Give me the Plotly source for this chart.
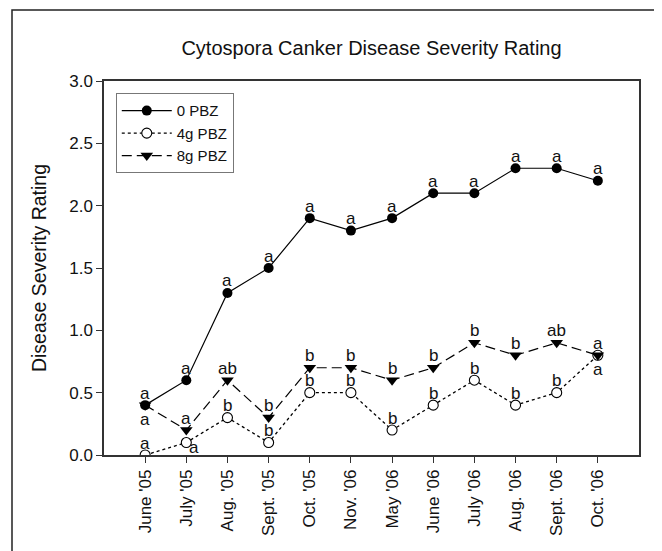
import plotly.graph_objects as go

months = ["June '05", "July '05", "Aug. '05", "Sept. '05", "Oct. '05", "Nov. '06",
          "May '06", "June '06", "July '06", "Aug. '06", "Sept. '06", "Oct. '06"]

pbz0 = [0.4, 0.6, 1.3, 1.5, 1.9, 1.8, 1.9, 2.1, 2.1, 2.3, 2.3, 2.2]
pbz4 = [0.0, 0.1, 0.3, 0.1, 0.5, 0.5, 0.2, 0.4, 0.6, 0.4, 0.5, 0.8]
pbz8 = [0.4, 0.2, 0.6, 0.3, 0.7, 0.7, 0.6, 0.7, 0.9, 0.8, 0.9, 0.8]

letters0 = ["a"] * 12
letters4 = ["a", "a", "b", "b", "b", "b", "b", "b", "b", "b", "b", "a"]
letters8 = ["a", "a", "ab", "b", "b", "b", "b", "b", "b", "b", "ab", "a"]

# where each significance letter sits relative to its point
place0 = ["above"] * 12
place4 = ["above", "right"] + ["above"] * 9 + ["below"]
place8 = ["below"] + ["above"] * 11

FONT = "Liberation Sans, Arial, Helvetica, sans-serif"
INK = "#111"

# page body adds an 8px margin; figure is sized to fit the 662x551 window
W, H = 654, 543
L, R, T, B = 96, 23, 73, 96
PW, PH = W - L - R, H - T - B

fig = go.Figure()
fig.add_trace(go.Scatter(
    x=months, y=pbz0, name="0 PBZ", mode="lines+markers",
    line=dict(color="black", width=1.2),
    marker=dict(symbol="circle", size=10, color="black")))
fig.add_trace(go.Scatter(
    x=months, y=pbz4, name="4g PBZ", mode="lines+markers",
    line=dict(color="black", width=1.3, dash="dot"),
    marker=dict(symbol="circle", size=10, color="white",
                line=dict(width=1.1, color="black"))))
fig.add_trace(go.Scatter(
    x=months, y=pbz8, name="8g PBZ", mode="lines+markers",
    line=dict(color="black", width=1.2, dash="10px,5px"),
    marker=dict(symbol="triangle-down", size=11, color="black")))

SHIFT = {"above": (0, 12), "below": (0, -14), "right": (8, -5)}
for ys, labs, plc in ((pbz0, letters0, place0), (pbz4, letters4, place4),
                      (pbz8, letters8, place8)):
    for m, v, t, p in zip(months, ys, labs, plc):
        dx, dy = SHIFT[p]
        fig.add_annotation(x=m, y=v, text=t, showarrow=False,
                           xshift=dx, yshift=dy, xanchor="center", yanchor="middle",
                           font=dict(family=FONT, size=17, color=INK))

fig.update_layout(
    width=W, height=H,
    margin=dict(l=L, r=R, t=T, b=B, autoexpand=False),
    paper_bgcolor="white", plot_bgcolor="white",
    font=dict(family=FONT, color=INK),
    title=dict(text="Cytospora Canker Disease Severity Rating",
               x=0.5, xref="paper", xanchor="center",
               y=1 - 40 / H, yanchor="middle",
               font=dict(size=20, family=FONT, color=INK)),
    showlegend=True,
    legend=dict(x=0.022, y=0.967, xanchor="left", yanchor="top",
                bgcolor="white", bordercolor="#777", borderwidth=1,
                font=dict(size=15, family=FONT, color=INK),
                tracegroupgap=0, itemwidth=50),
    xaxis=dict(type="category", range=[-1, 12], tickmode="array",
               tickvals=months, ticktext=months, tickangle=-90,
               ticks="outside", ticklen=6, tickcolor="#333", automargin=False,
               showline=True, linecolor="#333", linewidth=1.5, mirror=True,
               showgrid=False, zeroline=False,
               tickfont=dict(size=17, family=FONT, color=INK)),
    yaxis=dict(range=[0, 3.0], tickvals=[0, 0.5, 1.0, 1.5, 2.0, 2.5, 3.0],
               tickformat=".1f", ticks="outside", ticklen=6, tickcolor="#333",
               automargin=False,
               showline=True, linecolor="#333", linewidth=1.5, mirror=True,
               showgrid=False, zeroline=False,
               title=dict(text="Disease Severity Rating",
                          font=dict(size=19.5, family=FONT, color=INK),
                          standoff=17),
               tickfont=dict(size=17, family=FONT, color=INK)),
)

# outer frame (starts at 4,2 in figure pixels and runs off the page)
fig.add_shape(type="rect", xref="paper", yref="paper",
              x0=(4 - L) / PW, x1=(W + 20 - L) / PW,
              y0=(T + PH - (H + 20)) / PH, y1=(T + PH - 2) / PH,
              line=dict(color="#222", width=1.5), fillcolor="rgba(0,0,0,0)",
              layer="below")

fig.write_html("out.html")
